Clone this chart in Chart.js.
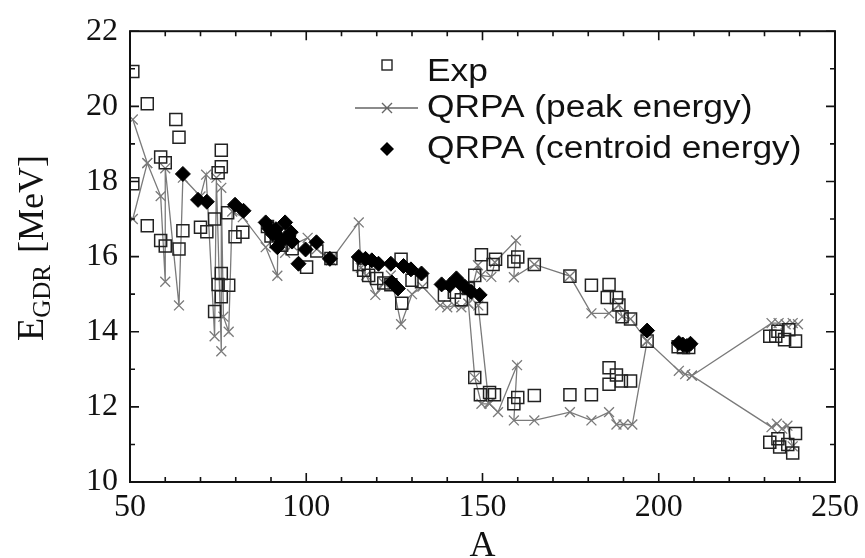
<!DOCTYPE html>
<html>
<head>
<meta charset="utf-8">
<script src="https://cdn.jsdelivr.net/npm/chart.js@4.4.1/dist/chart.umd.min.js"></script>
<style>
  html, body { margin: 0; padding: 0; background: #fff; }
  #wrap { width: 865px; height: 558px; }
</style>
</head>
<body>
<div id="wrap"><canvas id="gdr" width="865" height="558"></canvas></div>
<script>
// experimental GDR energies (A, MeV)
const expA = [50.8, 50.8, 54.9, 54.9, 58.7, 58.7, 60, 60, 63, 63.9, 63.9, 65, 70, 71.8, 74, 74, 75, 75, 75.9, 75.9,
  75.9, 75.9, 77.7, 78, 79.8, 82, 89, 90, 91.5, 93, 94.5, 96, 100.1, 103, 107, 115, 116.3, 117.7, 120, 122,
  124, 126.9, 127.1, 130, 132.7, 139.2, 142, 144, 146, 147.8, 149.7, 149.7, 153.7, 153, 158.9, 160, 164.7, 174.8, 180.9, 185.9,
  185.4, 188, 188.7, 189.6, 192, 147.8, 149.4, 152, 153.4, 160, 158.9, 164.7, 174.8, 180.9, 185.9, 188, 185.9, 189.4, 192, 196.7,
  205.5, 207, 208.5, 231.5, 233.2, 233.8, 235.7, 236.9, 238.8, 231.5, 233.8, 234.3, 236.6, 238, 238.8];
const expE = [20.93, 17.94, 20.07, 16.82, 18.65, 16.43, 18.5, 16.28, 19.65, 19.18, 16.2, 16.69, 16.78, 16.66, 17.0, 14.54, 18.23, 15.26, 18.83, 18.39,
  15.55, 14.93, 17.17, 15.24, 16.53, 16.65, 16.8, 16.55, 16.4, 16.3, 16.6, 16.21, 15.72, 16.15, 15.95, 15.79, 15.64, 15.5, 15.42, 15.3,
  15.25, 15.93, 14.76, 15.37, 15.33, 14.98, 15.05, 14.85, 15.15, 15.5, 16.05, 14.62, 15.93, 15.79, 15.87, 15.99, 15.79, 15.48, 15.24, 15.26,
  14.91, 14.91, 14.71, 14.4, 14.34, 12.78, 12.32, 12.38, 12.32, 12.25, 12.08, 12.3, 12.32, 12.32, 13.04, 12.85, 12.6, 12.69, 12.69, 13.75,
  13.6, 13.58, 13.58, 13.88, 13.88, 14.01, 13.79, 14.05, 13.75, 11.06, 11.15, 10.93, 11.0, 10.77, 11.29];

// QRPA peak energy, drawn as a path; null breaks the line
const peakA = [50.8, 54.9, 58.7, 60, 60, 63.9, 65, 70, 71.6, 74, 74.5, 75.9, 75.9, 76.5, 78, 79, 82, 88.5, 91.8, 92,
  94, 96, 100.4, 103, 107, 114.9, 115.5, 117, 119.6, 122, 124, 126.9, 130, 133, 138, 140, 142, 144, 146,
  147.8, 149.7, 152, 154.4, 159.8, 158.9, 164.7, 174.8, 180.9, 185.9, 188, 190, 192.5, 196.7, 205.7, 207.5, 209.4,
  232, 233.5, 235, 236.5, 238, null,
  146, 148.7, 149.6, 152.5, 153.5, 159.5, 158.9, 164.7, 174.8, 180.9, 185.9, 188.7, 189.6, 192, 196.7, null,
  209.4, 232, 234, 236, 238, 239.5, null,
  148.8, 151.8, null,
  50.8, 54.9];
const peakE = [19.65, 18.49, 17.61, 15.33, 18.35, 14.7, 18.1, 17.6, 18.18, 13.88, 18.1, 13.48, 17.83, 14.4, 14.0, 17.2, 17.05, 16.25, 15.49, 16.6,
  16.1, 16.3, 16.5, 16.2, 15.9, 16.91, 15.7, 15.5, 14.98, 15.3, 15.5, 14.2, 15.0, 15.2, 14.7, 14.65, 14.7, 14.65, 14.75,
  12.78, 12.08, 12.08, 11.86, 13.11, 11.64, 11.64, 11.86, 11.64, 11.86, 11.53, 11.53, 11.53, 13.75, 12.96, 12.87, 12.83,
  11.46, 11.55, 11.42, 11.5, 10.95, null,
  14.75, 15.77, 15.5, 15.46, 15.85, 16.43, 15.45, 15.79, 15.48, 14.49, 14.49, 14.71, 14.4, 14.34, 13.75, null,
  12.83, 14.23, 14.23, 14.2, 14.23, 14.2, null,
  14.7, 12.1, null,
  17.0, 18.49];

// QRPA centroid energy
const cenA = [65, 69.3, 71.8, 79.8, 82.2, 88.5, 89.5, 90.5, 91.4, 91.8, 92.5, 93, 94, 95, 95.6, 96, 97.8, 99.8, 102.9, 106.7,
  114.9, 116.8, 118.6, 120.5, 124, 127.6, 129.7, 132.7, 124.3, 126, 138.4, 140.7, 142.6, 143.5, 145, 146.8, 149.2,
  196.7, 205.7, 206.8, 208, 209];
const cenE = [18.2, 17.51, 17.46, 17.38, 17.22, 16.91, 16.75, 16.6, 16.73, 16.25, 16.5, 16.4, 16.91, 16.55, 16.65, 16.4, 15.81, 16.19, 16.38, 15.94,
  15.99, 15.94, 15.9, 15.81, 15.81, 15.75, 15.66, 15.55, 15.31, 15.15, 15.26, 15.24, 15.42, 15.3, 15.2, 15.06, 14.98,
  14.03, 13.7, 13.66, 13.62, 13.68];

const legendLabels = ['Exp', 'QRPA (peak energy)', 'QRPA (centroid energy)'];
const xTicks = [50, 100, 150, 200, 250];

const pts = (xs, ys) => xs.map((x, i) => ({ x: x, y: ys[i] }));

const serif = '"Liberation Serif", "DejaVu Serif", serif';
const sans = '"Liberation Sans", Arial, sans-serif';

// inward ticks on all four sides plus the box frame
const frameTicks = {
  id: 'frameTicks',
  afterDraw(chart) {
    const { ctx, chartArea: a, scales: { x, y } } = chart;
    ctx.save();
    ctx.strokeStyle = '#111';
    ctx.lineWidth = 1.6;
    for (let v = 50; v <= 250; v += 10) {
      const px = x.getPixelForValue(v);
      const len = v % 50 === 0 ? 9 : 5;
      ctx.beginPath();
      ctx.moveTo(px, a.bottom); ctx.lineTo(px, a.bottom - len);
      ctx.moveTo(px, a.top); ctx.lineTo(px, a.top + len);
      ctx.stroke();
    }
    for (let v = 10; v <= 22; v += 1) {
      const py = y.getPixelForValue(v);
      const len = v % 2 === 0 ? 9 : 5;
      ctx.beginPath();
      ctx.moveTo(a.left, py); ctx.lineTo(a.left + len, py);
      ctx.moveTo(a.right, py); ctx.lineTo(a.right - len, py);
      ctx.stroke();
    }
    ctx.lineWidth = 2;
    ctx.strokeRect(a.left, a.top, a.right - a.left, a.bottom - a.top);
    ctx.restore();
  }
};

// axis titles (subscript on the y title)
const axisTitles = {
  id: 'axisTitles',
  afterDraw(chart) {
    const { ctx, chartArea: a } = chart;
    ctx.save();
    ctx.fillStyle = '#111';
    ctx.textBaseline = 'alphabetic';
    ctx.font = '36px ' + serif;
    ctx.textAlign = 'center';
    ctx.fillText('A', (a.left + a.right) / 2, 556);

    ctx.translate(43, 341);
    ctx.rotate(-Math.PI / 2);
    ctx.textAlign = 'left';
    ctx.font = '38px ' + serif;
    ctx.fillText('E', 0, 0);
    let w = ctx.measureText('E').width;
    ctx.font = '25px ' + serif;
    ctx.fillText('GDR', w, 7);
    w += ctx.measureText('GDR').width + 12;
    ctx.font = '36px ' + serif;
    ctx.fillText('[MeV]', w, 0);
    ctx.restore();
  }
};

// legend inside the plot
const innerLegend = {
  id: 'innerLegend',
  afterDraw(chart) {
    const { ctx } = chart;
    ctx.save();
    ctx.fillStyle = '#111';
    ctx.textBaseline = 'middle';
    ctx.textAlign = 'left';
    const tx = 427, sx = 387;
    const rows = [72, 108, 149];
    const label = (t, yy) => {
      ctx.save();
      ctx.font = '31px ' + sans;
      ctx.translate(tx, yy);
      ctx.scale(1.14, 1);
      ctx.fillText(t, 0, 0);
      ctx.restore();
    };
    // Exp
    ctx.strokeStyle = '#222';
    ctx.lineWidth = 1.4;
    ctx.strokeRect(sx - 5, rows[0] - 12, 10, 10);
    label(legendLabels[0], rows[0]);
    // peak
    ctx.strokeStyle = '#666';
    ctx.lineWidth = 1.4;
    ctx.beginPath();
    ctx.moveTo(355, rows[1]); ctx.lineTo(418, rows[1]);
    ctx.moveTo(sx - 5, rows[1] - 5); ctx.lineTo(sx + 5, rows[1] + 5);
    ctx.moveTo(sx - 5, rows[1] + 5); ctx.lineTo(sx + 5, rows[1] - 5);
    ctx.stroke();
    label(legendLabels[1], rows[1]);
    // centroid
    ctx.fillStyle = '#000';
    ctx.beginPath();
    ctx.moveTo(sx, rows[2] - 7); ctx.lineTo(sx + 7, rows[2]);
    ctx.lineTo(sx, rows[2] + 7); ctx.lineTo(sx - 7, rows[2]);
    ctx.closePath();
    ctx.fill();
    ctx.fillStyle = '#111';
    label(legendLabels[2], rows[2]);
    ctx.restore();
  }
};

new Chart(document.getElementById('gdr'), {
  type: 'scatter',
  data: {
    datasets: [
      {
        label: legendLabels[2],
        data: pts(cenA, cenE),
        pointStyle: 'rectRot',
        pointRadius: 7.5,
        pointHoverRadius: 7.5,
        backgroundColor: '#000',
        borderColor: '#000',
        borderWidth: 1,
        order: 0
      },
      {
        label: legendLabels[0],
        data: pts(expA, expE),
        pointStyle: 'rect',
        pointRadius: 8.5,
        pointHoverRadius: 8.5,
        backgroundColor: 'rgba(0,0,0,0)',
        borderColor: '#222',
        borderWidth: 1.5,
        order: 1
      },
      {
        label: legendLabels[1],
        data: pts(peakA, peakE),
        showLine: true,
        spanGaps: false,
        pointStyle: 'crossRot',
        pointRadius: 7,
        pointHoverRadius: 7,
        borderColor: '#7a7a7a',
        backgroundColor: '#7a7a7a',
        borderWidth: 1.3,
        order: 2
      }
    ]
  },
  options: {
    responsive: false,
    animation: false,
    layout: { padding: { left: 0, right: 26, top: 27, bottom: 0 } },
    plugins: {
      legend: { display: false },
      tooltip: { enabled: false }
    },
    scales: {
      x: {
        type: 'linear',
        min: 50,
        max: 250,
        afterFit(s) { s.height = 76; },
        afterBuildTicks(s) { s.ticks = xTicks.map(v => ({ value: v })); },
        grid: { display: false, drawTicks: false },
        border: { display: false },
        ticks: { color: '#111', font: { family: serif, size: 32 }, padding: 6, maxRotation: 0 }
      },
      y: {
        type: 'linear',
        min: 10,
        max: 22,
        afterFit(s) { s.width = 130; },
        grid: { display: false, drawTicks: false },
        border: { display: false },
        ticks: { stepSize: 2, color: '#111', font: { family: serif, size: 32 }, padding: 12 }
      }
    }
  },
  plugins: [frameTicks, axisTitles, innerLegend]
});
</script>
</body>
</html>
